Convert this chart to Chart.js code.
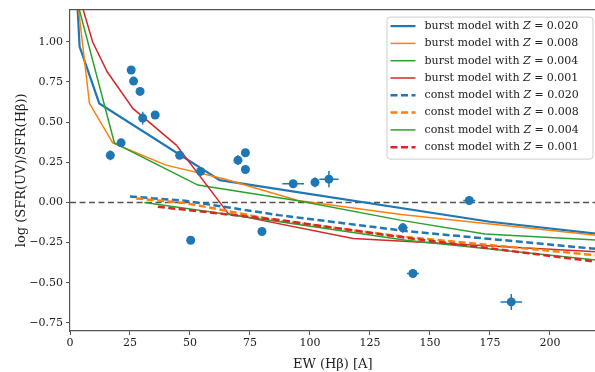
<!DOCTYPE html>
<html>
<head>
<meta charset="utf-8">
<script src="https://cdn.jsdelivr.net/npm/chart.js@4.4.1/dist/chart.umd.min.js"></script>
<style>
  html, body { margin: 0; padding: 0; background: #fff; overflow: hidden; }
  #wrap { width: 600px; height: 372px; position: relative; }
</style>
</head>
<body>
<div id="wrap"><canvas id="sfrChart"></canvas></div>
<script>
// observed galaxies: EW(Hbeta) and log SFR ratio, with errors
const ewObs = [16.8, 21.3, 25.5, 26.5, 29.2, 30.3, 35.5, 45.7, 50.3, 54.4, 70.0, 73.1, 73.1, 80.0, 93.0, 102.1, 107.9, 138.7, 142.9, 166.4, 183.9];
const ratioObs = [0.293, 0.371, 0.824, 0.755, 0.691, 0.525, 0.544, 0.293, -0.235, 0.193, 0.263, 0.309, 0.205, -0.181, 0.116, 0.125, 0.145, -0.158, -0.442, 0.012, -0.619];
const ewErr = [0.5, 1.0, 0.5, 0.5, 0.5, 0.5, 1.0, 0.5, 0.5, 0.5, 0.5, 0.5, 0.5, 0.5, 4.5, 1.5, 4.0, 2.0, 2.5, 2.5, 4.5];
const ratioErr = [0.03, 0.02, 0.01, 0.01, 0.01, 0.04, 0.02, 0.02, 0.01, 0.02, 0.03, 0.02, 0.02, 0.01, 0.02, 0.03, 0.05, 0.03, 0.01, 0.02, 0.05];

// burst models
const burst020X = [2.5, 4.0, 12.2, 62.4, 175, 220];
const burst020Y = [1.4, 0.97, 0.616, 0.139, -0.12, -0.195];
const burst008X = [2.8, 8.1, 17.8, 40, 64, 95, 138, 220];
const burst008Y = [1.3, 0.617, 0.371, 0.232, 0.147, 0.012, -0.075, -0.205];
const burst004X = [3.0, 18.5, 53.3, 95, 137.6, 173, 220];
const burst004Y = [1.25, 0.37, 0.108, 0.01, -0.11, -0.197, -0.235];
const burst001X = [4.5, 9.4, 15.5, 26.2, 44.3, 66, 118, 220];
const burst001Y = [1.25, 1.0, 0.813, 0.585, 0.357, -0.07, -0.224, -0.307];

// constant SFR models
const const020X = [25, 48, 87, 140, 220];
const const020Y = [0.037, 0.01, -0.079, -0.178, -0.29];
const const008X = [27.6, 48.5, 87.4, 140, 220];
const const008Y = [0.025, -0.005, -0.115, -0.215, -0.33];
const const004X = [31, 87.4, 140, 220];
const const004Y = [0.0, -0.12, -0.235, -0.36];
const const001X = [36.6, 87.4, 140, 220];
const const001Y = [-0.027, -0.11, -0.22, -0.37];

const xTicks = [0, 25, 50, 75, 100, 125, 150, 175, 200];
const yTicks = [-0.75, -0.5, -0.25, 0, 0.25, 0.5, 0.75, 1.0];
const refLevel = 0;

const FONT = "'DejaVu Serif', serif";
const blue = '#1f77b4', orange = '#ff7f0e', green = '#2ca02c', red = '#d62728';

function pts(xs, ys) {
    return xs.map((x, i) => ({ x: x, y: ys[i] }));
}

function model(label, xs, ys, color, width, dash, order) {
    return {
        type: 'line',
        label: label,
        data: pts(xs, ys),
        borderColor: color,
        backgroundColor: color,
        borderWidth: width,
        borderDash: dash,
        pointRadius: 0,
        fill: false,
        tension: 0,
        order: order
    };
}

// y = 0 reference line, frame, error bars and legend
const extras = {
    id: 'extras',
    beforeDatasetsDraw(chart) {
        const { ctx, chartArea: a, scales: { y } } = chart;
        const py = y.getPixelForValue(refLevel);
        ctx.save();
        ctx.strokeStyle = 'rgba(40,40,40,0.8)';
        ctx.lineWidth = 1.5;
        ctx.setLineDash([6, 3.5]);
        ctx.beginPath();
        ctx.moveTo(a.left, py);
        ctx.lineTo(a.right, py);
        ctx.stroke();
        ctx.restore();
    },
    afterDatasetsDraw(chart) {
        const { ctx, chartArea: a, scales: { x, y } } = chart;
        ctx.save();
        ctx.strokeStyle = blue;
        ctx.lineWidth = 1.5;
        ewObs.forEach((ew, i) => {
            const px = x.getPixelForValue(ew), py = y.getPixelForValue(ratioObs[i]);
            ctx.beginPath();
            ctx.moveTo(x.getPixelForValue(ew - ewErr[i]), py);
            ctx.lineTo(x.getPixelForValue(ew + ewErr[i]), py);
            ctx.moveTo(px, y.getPixelForValue(ratioObs[i] - ratioErr[i]));
            ctx.lineTo(px, y.getPixelForValue(ratioObs[i] + ratioErr[i]));
            ctx.stroke();
        });
        // top spine
        ctx.strokeStyle = '#555';
        ctx.lineWidth = 1.2;
        ctx.beginPath();
        ctx.moveTo(a.left, a.top);
        ctx.lineTo(a.right, a.top);
        ctx.stroke();
        ctx.restore();
    },
    afterDraw(chart) {
        const { ctx, chartArea: a } = chart;
        const items = chart.data.datasets.filter(d => d.type === 'line');
        const bx = a.right - 209, by = a.top + 7, bw = 206, bh = 142;
        ctx.save();
        ctx.fillStyle = 'rgba(255,255,255,0.85)';
        ctx.strokeStyle = '#ccc';
        ctx.lineWidth = 1;
        ctx.beginPath();
        ctx.roundRect(bx + 0.5, by + 0.5, bw, bh, 3);
        ctx.fill();
        ctx.stroke();
        ctx.textBaseline = 'middle';
        ctx.fillStyle = '#222';
        items.forEach((d, i) => {
            const cy = by + 9.5 + i * 17.3;
            ctx.strokeStyle = d.borderColor;
            ctx.lineWidth = d.borderWidth;
            ctx.setLineDash(d.borderDash || []);
            ctx.beginPath();
            ctx.moveTo(bx + 4, cy);
            ctx.lineTo(bx + 29, cy);
            ctx.stroke();
            ctx.setLineDash([]);
            const parts = d.label.split('Z');
            let tx = bx + 38;
            ctx.font = '11px ' + FONT;
            ctx.fillText(parts[0], tx, cy);
            tx += ctx.measureText(parts[0]).width;
            ctx.font = 'italic 11px ' + FONT;
            ctx.fillText('Z', tx, cy);
            tx += ctx.measureText('Z').width;
            ctx.font = '11px ' + FONT;
            ctx.fillText(parts[1], tx, cy);
        });
        ctx.restore();
    }
};

const ctx = document.getElementById('sfrChart').getContext('2d');

let sfrChart = new Chart(ctx, {
    type: 'scatter',
    data: {
        datasets: [
            {
                type: 'scatter',
                label: 'observed',
                data: pts(ewObs, ratioObs),
                backgroundColor: blue,
                borderColor: blue,
                pointRadius: 4.5,
                pointBorderWidth: 0,
                order: 0
            },
            model('burst model with Z = 0.020', burst020X, burst020Y, blue, 2.2, [], 12),
            model('burst model with Z = 0.008', burst008X, burst008Y, orange, 1.5, [], 11),
            model('burst model with Z = 0.004', burst004X, burst004Y, green, 1.5, [], 10),
            model('burst model with Z = 0.001', burst001X, burst001Y, red, 1.5, [], 9),
            model('const model with Z = 0.020', const020X, const020Y, blue, 2.5, [7, 3.5], 8),
            model('const model with Z = 0.008', const008X, const008Y, orange, 2.5, [7, 3.5], 7),
            model('const model with Z = 0.004', const004X, const004Y, green, 1.5, [], 6),
            model('const model with Z = 0.001', const001X, const001Y, red, 2.5, [7, 3.5], 5)
        ]
    },
    options: {
        responsive: true,
        maintainAspectRatio: false,
        animation: false,
        layout: { padding: { top: 9, right: 0, left: 0, bottom: 0 } },
        plugins: {
            legend: { display: false },
            tooltip: { enabled: false }
        },
        scales: {
            x: {
                type: 'linear',
                min: 0,
                max: 219,
                afterBuildTicks: s => { s.ticks = xTicks.map(v => ({ value: v })); },
                afterFit: s => { s.height = 41; },
                ticks: {
                    color: '#222',
                    font: { family: FONT, size: 11 },
                    padding: 2,
                    maxRotation: 0,
                    callback: v => String(v)
                },
                grid: { drawOnChartArea: false, drawTicks: true, tickLength: 4, color: '#555', lineWidth: 1 },
                border: { display: true, color: '#555', width: 1.2 },
                title: {
                    display: true,
                    text: 'EW (Hβ) [A]',
                    color: '#222',
                    font: { family: FONT, size: 13 },
                    padding: { top: 1, bottom: 0 }
                }
            },
            y: {
                type: 'linear',
                min: -0.8,
                max: 1.2,
                afterBuildTicks: s => { s.ticks = yTicks.map(v => ({ value: v })); },
                afterFit: s => { s.width = 70; },
                ticks: {
                    color: '#222',
                    font: { family: FONT, size: 11 },
                    padding: 3,
                    callback: v => (v < 0 ? '\u2212' : '') + Math.abs(v).toFixed(2)
                },
                grid: { drawOnChartArea: false, drawTicks: true, tickLength: 4, color: '#555', lineWidth: 1 },
                border: { display: true, color: '#555', width: 1.2 },
                title: {
                    display: true,
                    text: 'log (SFR(UV)/SFR(Hβ))',
                    color: '#222',
                    font: { family: FONT, size: 13 },
                    padding: { top: 14, bottom: 2 }
                }
            }
        }
    },
    plugins: [extras]
});
</script>
</body>
</html>
